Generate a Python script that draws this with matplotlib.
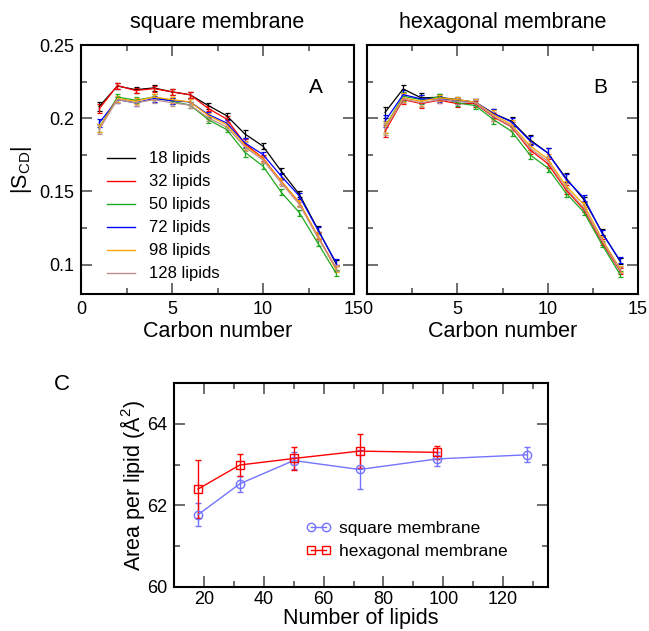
import numpy as np
import matplotlib
matplotlib.use("Agg")
import matplotlib.pyplot as plt
from matplotlib.ticker import MultipleLocator, FuncFormatter
from matplotlib.lines import Line2D

plt.rcParams["font.family"] = ["Liberation Sans", "DejaVu Sans"]
plt.rcParams["mathtext.fontset"] = "custom"
plt.rcParams["mathtext.rm"] = "Liberation Sans"

carbon = np.arange(1, 15)
lipid_labels = ["18 lipids", "32 lipids", "50 lipids", "72 lipids", "98 lipids", "128 lipids"]
colors = ["black", "#ff0000", "#1fa81f", "#0000ff", "#ffa500", "#bc8f8f"]

# panel A: square membrane, |S_CD| per carbon
sq_18 = [0.208, 0.222, 0.2195, 0.2207, 0.218, 0.216, 0.2086, 0.2018, 0.1893, 0.1809, 0.1639, 0.148, 0.1245, 0.101]
sq_32 = [0.2064, 0.2223, 0.2189, 0.2202, 0.218, 0.216, 0.2066, 0.1995, 0.1827, 0.1727, 0.157, 0.1423, 0.1195, 0.098]
sq_50 = [0.1934, 0.2145, 0.2123, 0.2145, 0.2116, 0.2089, 0.199, 0.1923, 0.1768, 0.1673, 0.1495, 0.1355, 0.115, 0.0945]
sq_72 = [0.1968, 0.2127, 0.2105, 0.2134, 0.212, 0.2111, 0.2025, 0.1968, 0.1832, 0.1752, 0.1605, 0.1468, 0.124, 0.1018]
sq_98 = [0.1934, 0.2134, 0.2116, 0.2145, 0.2127, 0.2111, 0.2018, 0.1957, 0.1814, 0.1723, 0.157, 0.1423, 0.12, 0.0968]
sq_128 = [0.1923, 0.2127, 0.2105, 0.2127, 0.2105, 0.2089, 0.2002, 0.1941, 0.1805, 0.1714, 0.1559, 0.1411, 0.1189, 0.098]
sq_err = [0.003, 0.002, 0.002, 0.002, 0.002, 0.002, 0.002, 0.002, 0.003, 0.002, 0.002, 0.002, 0.002, 0.002]

# panel B: hexagonal membrane
hx_18 = [0.204, 0.22, 0.2139, 0.2143, 0.2127, 0.2109, 0.2032, 0.198, 0.1855, 0.1764, 0.1593, 0.1445, 0.1223, 0.1025]
hx_32 = [0.1911, 0.2127, 0.21, 0.2123, 0.21, 0.21, 0.2009, 0.1941, 0.1786, 0.1691, 0.1514, 0.1377, 0.1155, 0.0957]
hx_50 = [0.1941, 0.215, 0.2127, 0.2145, 0.2105, 0.2086, 0.1991, 0.1911, 0.1752, 0.1661, 0.1491, 0.1359, 0.1139, 0.0934]
hx_72 = [0.198, 0.2161, 0.2132, 0.2132, 0.2116, 0.2109, 0.2032, 0.1975, 0.1848, 0.1764, 0.1586, 0.1457, 0.1218, 0.103]
hx_98 = [0.1941, 0.2139, 0.2116, 0.2139, 0.2127, 0.2109, 0.2025, 0.1957, 0.1814, 0.1723, 0.1541, 0.1411, 0.1177, 0.0973]
hx_128 = [0.1927, 0.2132, 0.2105, 0.2127, 0.2116, 0.2105, 0.2014, 0.1945, 0.1798, 0.1707, 0.1525, 0.1389, 0.1166, 0.0964]
hx_err = [0.004, 0.003, 0.003, 0.002, 0.002, 0.002, 0.003, 0.003, 0.003, 0.003, 0.003, 0.002, 0.002, 0.002]

# panel C: area per lipid
n_sq = [18, 32, 50, 72, 98, 128]
area_sq = [61.77, 62.53, 63.10, 62.88, 63.14, 63.24]
area_sq_err = [0.28, 0.20, 0.22, 0.48, 0.18, 0.18]
n_hx = [18, 32, 50, 72, 98]
area_hx = [62.40, 62.99, 63.15, 63.33, 63.30]
area_hx_err = [0.72, 0.28, 0.29, 0.42, 0.16]

W, H = 649, 631
fig = plt.figure(figsize=(W / 100, H / 100), dpi=100)

def rect(l, t, r, b):
    return [l / W, 1 - b / H, (r - l) / W, (b - t) / H]

def style(ax):
    for s in ax.spines.values():
        s.set_linewidth(1.5)
    ax.tick_params(which="both", direction="in", top=True, right=True,
                   color="#555555", labelsize=13, pad=5)
    ax.tick_params(which="major", length=8, width=1.2)
    ax.tick_params(which="minor", length=4, width=1.2)

gfmt = FuncFormatter(lambda v, p: "%g" % round(v, 4))

axA = fig.add_axes(rect(81, 45, 354, 294))
axB = fig.add_axes(rect(367, 45, 638, 294))
panels = [(axA, [sq_18, sq_32, sq_50, sq_72, sq_98, sq_128], sq_err, "A", "square membrane"),
          (axB, [hx_18, hx_32, hx_50, hx_72, hx_98, hx_128], hx_err, "B", "hexagonal membrane")]
for ax, series, err, tag, title in panels:
    for vals, c in zip(series, colors):
        ax.errorbar(carbon, vals, yerr=err, color=c, lw=0.9, elinewidth=0.9,
                    capsize=1.8, capthick=0.9)
    ax.set_xlim(0, 15)
    ax.set_ylim(0.08, 0.25)
    ax.xaxis.set_major_locator(MultipleLocator(5))
    ax.xaxis.set_minor_locator(MultipleLocator(2.5))
    ax.yaxis.set_major_locator(MultipleLocator(0.05))
    ax.yaxis.set_minor_locator(MultipleLocator(0.025))
    ax.yaxis.set_major_formatter(gfmt)
    style(ax)
    ax.set_xlabel("Carbon number", fontsize=15.5, labelpad=2)
    ax.set_title(title, fontsize=15.5, pad=12)
    ax.text(0.86, 0.83, tag, transform=ax.transAxes, fontsize=15, ha="center", va="center")

axB.set_yticklabels([])
axA.set_ylabel("|S$_{\\mathrm{CD}}$|", fontsize=15.5, labelpad=4)
handles = [Line2D([], [], color=c, lw=1.0) for c in colors]
axA.legend(handles, lipid_labels, loc="lower left", bbox_to_anchor=(0.04, -0.01), frameon=False,
           fontsize=12, handlelength=1.7, handletextpad=0.8, labelspacing=0.48)

axC = fig.add_axes(rect(174, 383, 548, 587))
axC.errorbar(n_sq, area_sq, yerr=area_sq_err, color="#7373ff", lw=1.0, elinewidth=1.0,
             capsize=2.5, marker="o", mfc="none", ms=6, mew=1.0)
axC.errorbar(n_hx, area_hx, yerr=area_hx_err, color="#ff0000", lw=1.0, elinewidth=1.0,
             capsize=2.5, marker="s", mfc="none", ms=5.5, mew=1.0)
axC.set_xlim(10, 135)
axC.set_ylim(60, 65)
axC.xaxis.set_major_locator(MultipleLocator(20))
axC.xaxis.set_minor_locator(MultipleLocator(10))
axC.yaxis.set_major_locator(MultipleLocator(2))
axC.yaxis.set_minor_locator(MultipleLocator(1))
style(axC)
axC.tick_params(axis="x", pad=3)
axC.set_xlabel("Number of lipids", fontsize=15.5, labelpad=0)
axC.set_ylabel("Area per lipid (Å$^2$)", fontsize=15.5, labelpad=0)
c_handles = [Line2D([], [], color="#7373ff", lw=1.0, marker="o", mfc="none", ms=6, mew=1.0),
             Line2D([], [], color="#ff0000", lw=1.0, marker="s", mfc="none", ms=5.5, mew=1.0)]
axC.legend(c_handles, ["square membrane", "hexagonal membrane"], numpoints=2,
           loc="lower left", bbox_to_anchor=(0.31, 0.06), frameon=False, fontsize=12.5,
           handlelength=1.5, handletextpad=0.45, labelspacing=0.45)
fig.text(62 / W, 1 - 385 / H, "C", fontsize=16, ha="center", va="center")

fig.savefig("out.png", dpi=100)
